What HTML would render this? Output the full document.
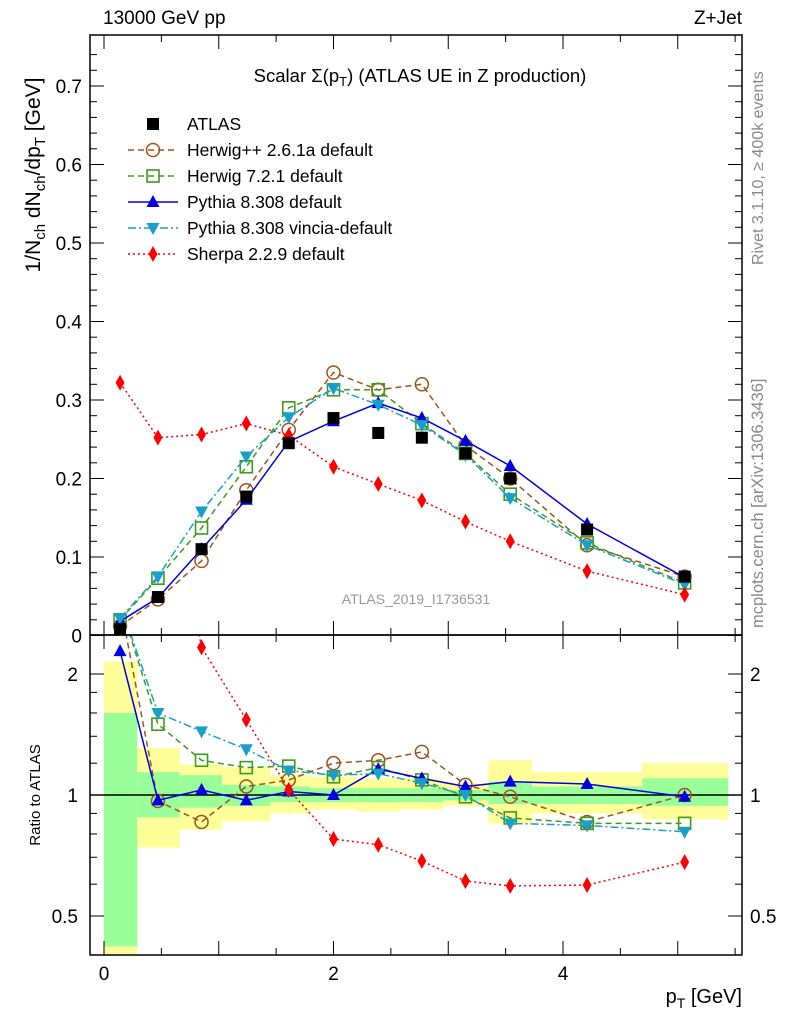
<!DOCTYPE html>
<html><head><meta charset="utf-8"><style>
body{margin:0;background:#fff;width:786px;height:1024px;overflow:hidden}
svg text{font-family:"Liberation Sans",sans-serif}
</style></head><body>
<svg id="c" width="786" height="1024" xmlns="http://www.w3.org/2000/svg">
<text x="103" y="24" font-size="19">13000 GeV pp</text>
<text x="742" y="24" font-size="19" text-anchor="end">Z+Jet</text>
<text x="420" y="82" font-size="18.5" text-anchor="middle">Scalar Σ(p<tspan font-size="13" dy="4">T</tspan><tspan dy="-4">) (ATLAS UE in Z production)</tspan></text>
<text x="416" y="604" font-size="14" fill="#999" text-anchor="middle">ATLAS_2019_I1736531</text>
<text transform="translate(763,265) rotate(-90)" font-size="16" fill="#888">Rivet 3.1.10, ≥ 400k events</text>
<text transform="translate(763,628) rotate(-90)" font-size="16.5" fill="#888">mcplots.cern.ch [arXiv:1306.3436]</text>
<text transform="translate(40,175) rotate(-90)" font-size="21" text-anchor="middle">1/N<tspan font-size="15" dy="5">ch</tspan><tspan dy="-5"> dN</tspan><tspan font-size="15" dy="5">ch</tspan><tspan dy="-5">/dp</tspan><tspan font-size="15" dy="5">T</tspan><tspan dy="-5"> [GeV]</tspan></text>
<text transform="translate(40,795) rotate(-90)" font-size="15" text-anchor="middle">Ratio to ATLAS</text>
<text x="742" y="1003" font-size="20" text-anchor="end">p<tspan font-size="14" dy="5">T</tspan><tspan dy="-5"> [GeV]</tspan></text>
<g id="bands"></g><g id="grid"></g><g id="series"></g><g id="axes"></g><g id="legend"></g>
</svg>
<script>
const xs=[0.14,0.47,0.85,1.24,1.61,2.0,2.39,2.77,3.15,3.54,4.21,5.06];
const atlas=[0.008,0.049,0.110,0.177,0.245,0.277,0.258,0.252,0.232,0.200,0.135,0.075];
const herwigpp=[0.012,0.046,0.095,0.185,0.262,0.335,0.313,0.320,0.242,0.200,0.115,0.075];
const herwig7=[0.020,0.073,0.137,0.215,0.290,0.313,0.313,0.270,0.232,0.180,0.118,0.067];
const pythia=[0.018,0.048,0.110,0.173,0.247,0.273,0.296,0.277,0.248,0.216,0.142,0.074];
const vincia=[0.022,0.075,0.158,0.228,0.278,0.315,0.294,0.268,0.230,0.175,0.115,0.065];
const sherpa=[0.322,0.252,0.256,0.270,0.255,0.215,0.193,0.172,0.145,0.120,0.082,0.052];
const rHerwigpp=[3.0,0.966,0.857,1.05,1.09,1.20,1.22,1.28,1.06,0.99,0.857,1.0];
const rHerwig7=[3.0,1.50,1.22,1.17,1.18,1.11,1.17,1.09,0.99,0.877,0.85,0.85];
const rPythia=[2.28,0.97,1.03,0.97,1.02,1.0,1.16,1.10,1.05,1.08,1.065,0.99];
const rVincia=[3.0,1.60,1.44,1.30,1.15,1.12,1.13,1.07,1.0,0.85,0.84,0.81];
const rSherpa=[40,9,2.33,1.54,1.03,0.777,0.752,0.685,0.611,0.594,0.597,0.681];
const binEdges=[0,0.29,0.66,1.03,1.45,1.8,2.2,2.58,2.96,3.35,3.73,4.69,5.44];
const greenLo=[0.42,0.88,0.93,0.94,0.96,0.96,0.96,0.96,0.97,0.95,0.95,0.94];
const greenHi=[1.6,1.14,1.12,1.06,1.05,1.04,1.04,1.04,1.03,1.08,1.05,1.10];
const yellowLo=[0.40,0.74,0.82,0.86,0.90,0.92,0.91,0.92,0.94,0.85,0.90,0.87];
const yellowHi=[2.15,1.31,1.19,1.17,1.12,1.11,1.10,1.10,1.07,1.22,1.14,1.20];
const xTicks=[0,2,4];
const yTicks=[0,0.1,0.2,0.3,0.4,0.5,0.6,0.7];
const rTicks=[0.5,1,2];

const L=90,R=742,T=35,MB=635,RB=955;
const X=v=>104+v*114.75;
const Y=v=>635.5-v*785;
const RY=v=>795-Math.log2(v)*121;
const NS="http://www.w3.org/2000/svg";
function mk(tag,attrs,parent){const e=document.createElementNS(NS,tag);for(const k in attrs)e.setAttribute(k,attrs[k]);parent.appendChild(e);return e;}
const svg=document.getElementById('c');
const defs=mk('defs',{},svg);
const cp1=mk('clipPath',{id:'cm'},defs);mk('rect',{x:L,y:T,width:R-L,height:MB-T},cp1);
const cp2=mk('clipPath',{id:'cr'},defs);mk('rect',{x:L,y:MB,width:R-L,height:RB-MB},cp2);

const bands=document.getElementById('bands');
for(let i=0;i<greenLo.length;i++){
 const x0=X(binEdges[i]),x1=X(binEdges[i+1]);
 const yb=mk('rect',{x:x0,y:Math.max(MB,RY(yellowHi[i])),width:x1-x0,height:Math.min(RB,RY(yellowLo[i]))-Math.max(MB,RY(yellowHi[i])),fill:'#ffff99'},bands);
 
 
 const gb=mk('rect',{x:x0,y:RY(greenHi[i]),width:x1-x0,height:Math.min(RB,RY(greenLo[i]))-RY(greenHi[i]),fill:'#99ff99'},bands);
 
 
}
const one=mk('line',{x1:L,x2:R,y1:RY(1),y2:RY(1),stroke:'#000','stroke-width':1.5},bands);



function marker(g,type,x,y,color){
 let e;
 if(type==='sq'){e=mk('rect',{x:x-6,y:y-6,width:12,height:12,fill:'#000'},g);}
 else if(type==='osq'){e=mk('rect',{x:x-6,y:y-6,width:12,height:12,fill:'none',stroke:color,'stroke-width':1.6},g);}
 else if(type==='oc'){e=mk('circle',{cx:x,cy:y,r:6.5,fill:'none',stroke:color,'stroke-width':1.5},g);}
 else if(type==='tu'){e=mk('polygon',{points:`${x},${y-7} ${x-6.5},${y+5} ${x+6.5},${y+5}`,fill:color},g);}
 else if(type==='td'){e=mk('polygon',{points:`${x},${y+7} ${x-6.5},${y-5} ${x+6.5},${y-5}`,fill:color},g);}
 else {e=mk('polygon',{points:`${x},${y-8} ${x-4.5},${y} ${x},${y+8} ${x+4.5},${y}`,fill:color},g);}
 return e;
}
const seriesDefs=[
 {name:'herwigpp',main:herwigpp,ratio:rHerwigpp,color:'#a0521a',dash:'6,4',m:'oc'},
 {name:'herwig7',main:herwig7,ratio:rHerwig7,color:'#3d9a1a',dash:'6,4',m:'osq'},
 {name:'pythia',main:pythia,ratio:rPythia,color:'#0000e0',dash:'',m:'tu'},
 {name:'vincia',main:vincia,ratio:rVincia,color:'#1aa0c8',dash:'8,3,2,3',m:'td'},
 {name:'sherpa',main:sherpa,ratio:rSherpa,color:'#ff0000',dash:'2,3',m:'di'}
];
const sg=document.getElementById('series');
const gm=mk('g',{'clip-path':'url(#cm)'},sg);
const gr=mk('g',{'clip-path':'url(#cr)'},sg);
for(const s of seriesDefs){
 const p1=mk('polyline',{points:xs.map((x,i)=>X(x)+','+Y(s.main[i])).join(' '),fill:'none',stroke:s.color,'stroke-width':1.5,'stroke-dasharray':s.dash},gm);
 
 
 const p2=mk('polyline',{points:xs.map((x,i)=>X(x)+','+RY(s.ratio[i])).join(' '),fill:'none',stroke:s.color,'stroke-width':1.5,'stroke-dasharray':s.dash},gr);
 
 
 xs.forEach((x,i)=>{
  const m1=marker(gm,s.m,X(x),Y(s.main[i]),s.color);
  
  
  const m2=marker(gr,s.m,X(x),RY(s.ratio[i]),s.color);
  
  
 });
}
xs.forEach((x,i)=>{
 const m=marker(gm,'sq',X(x),Y(atlas[i]),'#000');
 
 
});

const ax=document.getElementById('axes');
const f1=mk('rect',{x:L,y:T,width:R-L,height:MB-T,fill:'none',stroke:'#000','stroke-width':1.5},ax);


const f2=mk('rect',{x:L,y:MB,width:R-L,height:RB-MB,fill:'none',stroke:'#000','stroke-width':1.5},ax);


for(let v=0;v<=5.5;v+=0.5){
 const big=Math.abs(v-Math.round(v))<1e-6;
 const len=big?14:7;
 mk('line',{x1:X(v),x2:X(v),y1:RB,y2:RB-len,stroke:'#000'},ax);
 mk('line',{x1:X(v),x2:X(v),y1:MB,y2:MB-len,stroke:'#000'},ax);
 mk('line',{x1:X(v),x2:X(v),y1:T,y2:T+len,stroke:'#000'},ax);
 mk('line',{x1:X(v),x2:X(v),y1:MB,y2:MB+len,stroke:'#000'},ax);
}
xTicks.forEach(v=>{
 const t=mk('text',{x:X(v),y:980,'font-size':19,'text-anchor':'middle'},ax);t.textContent=v;
 
 
});
for(let v=0;v<=0.76;v+=0.02){
 const big=Math.abs(v*10-Math.round(v*10))<1e-6;const len=big?14:7;
 mk('line',{x1:L,x2:L+len,y1:Y(v),y2:Y(v),stroke:'#000'},ax);
 mk('line',{x1:R,x2:R-len,y1:Y(v),y2:Y(v),stroke:'#000'},ax);
}
yTicks.forEach(v=>{
 const t=mk('text',{x:82,y:Y(v)+7,'font-size':19,'text-anchor':'end'},ax);t.textContent=v;
 
 
});
[0.4,0.5,0.6,0.7,0.8,0.9,1,2].forEach(v=>{
 const len=(v===0.5||v===1||v===2)?14:7;
 mk('line',{x1:L,x2:L+len,y1:RY(v),y2:RY(v),stroke:'#000'},ax);
 mk('line',{x1:R,x2:R-len,y1:RY(v),y2:RY(v),stroke:'#000'},ax);
});
[1.2,1.4,1.6,1.8].forEach(v=>{
 mk('line',{x1:L,x2:L+7,y1:RY(v),y2:RY(v),stroke:'#000'},ax);
 mk('line',{x1:R,x2:R-7,y1:RY(v),y2:RY(v),stroke:'#000'},ax);
});
rTicks.forEach(v=>{
 const t=mk('text',{x:78,y:RY(v)+7,'font-size':19,'text-anchor':'end'},ax);t.textContent=v;
 
 
 const t2=mk('text',{x:750,y:RY(v)+7,'font-size':19},ax);t2.textContent=v;
 
 
});

const lg=document.getElementById('legend');
const entries=[['ATLAS','sq','#000',''],['Herwig++ 2.6.1a default','oc','#a0521a','6,4'],['Herwig 7.2.1 default','osq','#3d9a1a','6,4'],['Pythia 8.308 default','tu','#0000e0',''],['Pythia 8.308 vincia-default','td','#1aa0c8','8,3,2,3'],['Sherpa 2.2.9 default','di','#ff0000','2,3']];
entries.forEach((e,i)=>{
 const y=124+i*26;
 const g=mk('g',{},lg);
 
 
 if(i>0)mk('line',{x1:128,x2:178,y1:y,y2:y,stroke:e[2],'stroke-width':1.5,'stroke-dasharray':e[3]},g);
 marker(g,e[1],153,y,e[2]);
 const t=mk('text',{x:187,y:y+6,'font-size':17.5},g);t.textContent=e[0];
});
</script>
</body></html>
